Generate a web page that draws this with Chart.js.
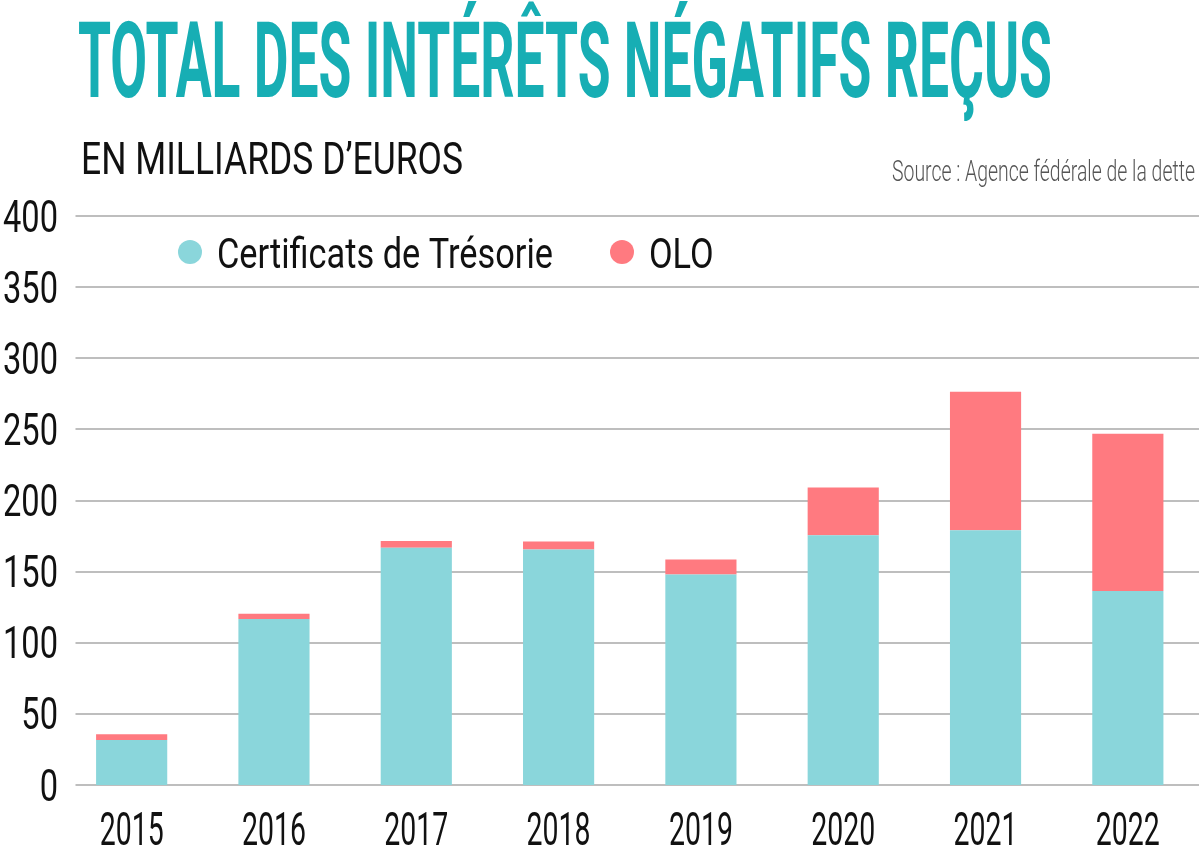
<!DOCTYPE html>
<html>
<head>
<meta charset="utf-8">
<script src="https://cdn.jsdelivr.net/npm/chart.js@4"></script>
<style>
  html, body { margin: 0; padding: 0; background: #fff; }
  #wrap { position: relative; width: 1200px; height: 858px; overflow: hidden; }
  canvas { position: absolute; left: 0; top: 0; }
  .txt { position: absolute; white-space: nowrap; line-height: 1; transform-origin: 0 0; font-family: Roboto, "Liberation Sans", sans-serif; }
  #title { left: 78px; top: 8.6px; font-size: 105px; font-weight: 700; color: #17AEB4; }
  #subtitle { left: 81px; top: 137px; font-size: 44px; font-weight: 400; color: #111; }
  #source { left: 892px; top: 157px; font-size: 29px; font-weight: 300; color: #555; }
</style>
</head>
<body>
<div id="wrap">
  <canvas id="chart" width="1200" height="858"></canvas>
  <div class="txt" id="title" data-w="974">TOTAL DES INTÉRÊTS NÉGATIFS REÇUS</div>
  <div class="txt" id="subtitle" data-w="382">EN MILLIARDS D’EUROS</div>
  <div class="txt" id="source" data-w="303">Source : Agence fédérale de la dette</div>
</div>
<script>
// ---- Data ----
const categories = ['2015', '2016', '2017', '2018', '2019', '2020', '2021', '2022'];
const certificats = [31.7, 116.7, 166.7, 165.5, 147.9, 175.6, 179.1, 136.4];
const olo = [4.0, 3.7, 4.9, 5.6, 10.6, 33.6, 97.4, 110.6];
const seriesLabels = ['Certificats de Trésorie', 'OLO'];
const yTickValues = [0, 50, 100, 150, 200, 250, 300, 350, 400];

// ---- Styles ----
const TEAL = '#8AD6DB';
const PINK = '#FF7A80';
const GRID = '#BEBEBE';
const TEXT = '#111';
const TICK_FONT = '400 44px Roboto, "Liberation Sans", sans-serif';
const XTICK_FONT = '400 46px Roboto, "Liberation Sans", sans-serif';
const LEGEND_FONT = '400 42px Roboto, "Liberation Sans", sans-serif';

function squeezeText(ctx, text, x, y, font, color, squeeze, align) {
  ctx.save();
  ctx.font = font;
  ctx.fillStyle = color;
  ctx.textBaseline = 'alphabetic';
  const w = ctx.measureText(text).width * squeeze;
  let left = x;
  if (align === 'right') left = x - w;
  else if (align === 'center') left = x - w / 2;
  ctx.translate(left, y);
  ctx.scale(squeeze, 1);
  ctx.textAlign = 'left';
  ctx.fillText(text, 0, 0);
  ctx.restore();
  return w;
}

const customPlugin = {
  id: 'custom',
  beforeDatasetsDraw(chart) {
    const ctx = chart.ctx;
    const y = chart.scales.y;
    const area = chart.chartArea;
    ctx.save();
    ctx.strokeStyle = GRID;
    ctx.lineWidth = 2;
    yTickValues.forEach(v => {
      const py = Math.round(y.getPixelForValue(v));
      ctx.beginPath();
      ctx.moveTo(area.left + 15, py);
      ctx.lineTo(area.right, py);
      ctx.stroke();
    });
    ctx.restore();
  },
  afterDraw(chart) {
    const ctx = chart.ctx;
    const x = chart.scales.x;
    const y = chart.scales.y;
    // y tick labels
    ctx.font = TICK_FONT;
    const ySq = 55 / ctx.measureText('400').width;
    yTickValues.forEach(v => {
      const py = y.getPixelForValue(v);
      squeezeText(ctx, String(v), 58, py + 15.5, TICK_FONT, TEXT, ySq, 'right');
    });
    // x tick labels
    ctx.font = XTICK_FONT;
    const xSq = 64 / ctx.measureText('2015').width;
    categories.forEach((c, i) => {
      const px = x.getPixelForValue(i);
      squeezeText(ctx, c, px, 845, XTICK_FONT, TEXT, xSq, 'center');
    });
    // legend
    ctx.font = LEGEND_FONT;
    const lSq = 336 / ctx.measureText(seriesLabels[0]).width;
    let lx = 190;
    const ly = 252;
    chart.data.datasets.forEach((ds, i) => {
      ctx.save();
      ctx.fillStyle = ds.backgroundColor;
      ctx.beginPath();
      ctx.arc(lx, ly, 12, 0, Math.PI * 2);
      ctx.fill();
      ctx.restore();
      const w = squeezeText(ctx, ds.label, lx + 27, 268, LEGEND_FONT, TEXT, lSq, 'left');
      lx = lx + 27 + w + 69;
    });
  }
};

function fitHtml() {
  document.querySelectorAll('.txt').forEach(el => {
    const target = parseFloat(el.dataset.w);
    const w = el.getBoundingClientRect().width;
    if (w > 0) el.style.transform = 'scaleX(' + (target / w) + ')';
  });
}

function build() {
  fitHtml();
  new Chart(document.getElementById('chart'), {
    type: 'bar',
    data: {
      labels: categories,
      datasets: [
        { label: seriesLabels[0], data: certificats, backgroundColor: TEAL, barPercentage: 0.5, categoryPercentage: 1 },
        { label: seriesLabels[1], data: olo, backgroundColor: PINK, barPercentage: 0.5, categoryPercentage: 1 }
      ]
    },
    options: {
      responsive: false,
      animation: false,
      layout: { padding: { left: 52.5, right: 1, top: 216, bottom: 65 } },
      plugins: { legend: { display: false }, tooltip: { enabled: false } },
      scales: {
        x: { stacked: true, grid: { display: false }, ticks: { display: false }, border: { display: false } },
        y: { stacked: true, min: 0, max: 400, ticks: { display: false, stepSize: 50 }, grid: { display: false }, border: { display: false } }
      }
    },
    plugins: [customPlugin]
  });
}

if (document.fonts && document.fonts.ready) {
  document.fonts.ready.then(build);
} else {
  build();
}
</script>
</body>
</html>
